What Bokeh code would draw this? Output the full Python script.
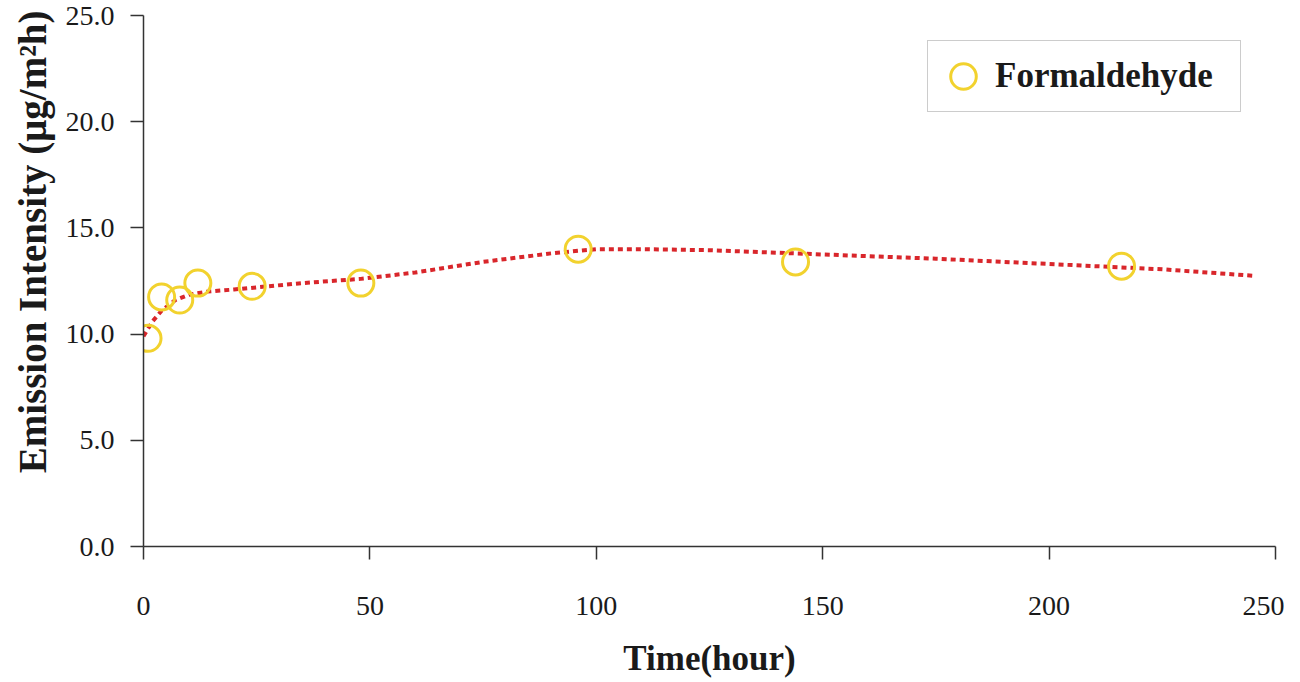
from bokeh.plotting import figure
from bokeh.models import Range1d, FixedTicker, Legend, LegendItem, PrintfTickFormatter, Title
from bokeh.embed import file_html
from bokeh.resources import INLINE

# measured emission data
time_h = [1, 4, 8, 12, 24, 48, 96, 144, 216]
formaldehyde = [9.8, 11.75, 11.6, 12.4, 12.25, 12.4, 14.0, 13.4, 13.2]

# trend curve
trend_x = [0, 2, 4, 7, 10, 14, 20, 25, 35, 48, 60, 75, 90, 100, 110, 125, 150, 175, 200, 225, 245]
trend_y = [9.9, 10.6, 11.1, 11.6, 11.85, 12.0, 12.1, 12.2, 12.4, 12.6, 12.9, 13.4, 13.8, 14.0,
           14.0, 13.95, 13.75, 13.55, 13.3, 13.05, 12.75]

x_ticks = [0, 50, 100, 150, 200, 250]
y_ticks = [0, 5, 10, 15, 20, 25]

FONT = "Liberation Serif"

p = figure(width=1284, height=680, output_backend="svg", toolbar_location=None,
           x_range=Range1d(0, 250), y_range=Range1d(0, 25),
           min_border_left=143, min_border_right=9, min_border_top=15, min_border_bottom=133)
p.outline_line_color = None
p.grid.visible = False
p.background_fill_color = "white"
p.border_fill_color = "white"

trend = p.line(trend_x, trend_y, line_color="#D9262B", line_width=4, line_dash="5 4")
pts = p.scatter(time_h, formaldehyde, marker="circle", size=26, fill_color=None,
                line_color="#F2D22E", line_width=3)

for ax in (p.xaxis[0], p.yaxis[0]):
    ax.axis_line_color = "#333333"
    ax.axis_line_width = 1.5
    ax.major_tick_line_color = "#333333"
    ax.major_tick_line_width = 1.5
    ax.major_tick_out = 13
    ax.major_tick_in = 0
    ax.minor_tick_line_color = None
    ax.major_label_text_font = FONT
    ax.major_label_text_font_size = "28px"
    ax.major_label_text_color = "#1a1a1a"
    ax.axis_label_text_font = FONT
    ax.axis_label_text_font_style = "bold"
    ax.axis_label_text_color = "#1a1a1a"

p.xaxis[0].ticker = FixedTicker(ticks=x_ticks)
p.yaxis[0].ticker = FixedTicker(ticks=y_ticks)
p.yaxis[0].formatter = PrintfTickFormatter(format="%.1f")
p.xaxis[0].major_label_standoff = 37
p.xaxis[0].axis_label = "Time(hour)"
p.xaxis[0].axis_label_text_font_size = "35px"
p.xaxis[0].axis_label_standoff = 21
p.yaxis[0].major_label_standoff = 16

# y axis title, shifted above the frame centre as in the original
ytitle = Title(text="Emission Intensity (μg/m²h)", align="right", offset=-5,
               text_font=FONT, text_font_style="bold", text_font_size="39px",
               text_color="#1a1a1a", standoff=17)
p.add_layout(ytitle, "left")

legend = Legend(items=[LegendItem(label="Formaldehyde", renderers=[pts])],
                location=(784, 434))
legend.label_text_font = FONT
legend.label_text_font_style = "bold"
legend.label_text_font_size = "35px"
legend.label_text_color = "#1a1a1a"
legend.border_line_color = "#999999"
legend.border_line_width = 1.5
legend.padding = 3
legend.margin = 0
legend.glyph_width = 64
legend.glyph_height = 64
legend.label_height = 40
legend.label_standoff = 0
legend.label_width = 242
legend.background_fill_alpha = 1
p.add_layout(legend, "center")

open("out.html", "w").write(file_html(p, INLINE))
